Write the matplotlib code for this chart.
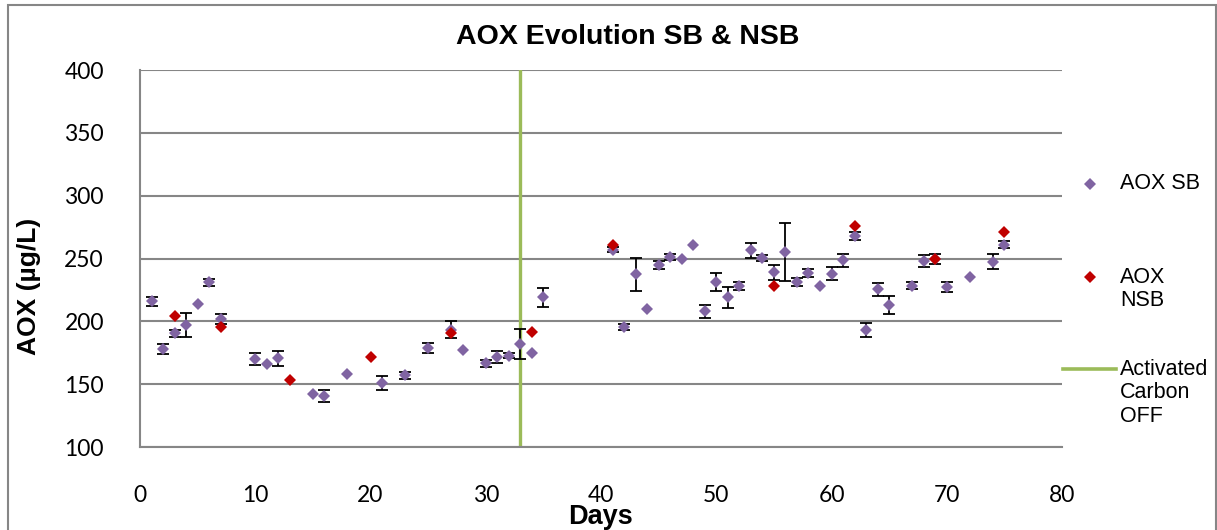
import numpy as np
import matplotlib.pyplot as plt
from matplotlib.lines import Line2D
from matplotlib.patches import Rectangle

# AOX in the SB line (with std. dev.)
days_sb = [1, 2, 3, 4, 5, 6, 7, 10, 11, 12, 15, 16, 18, 21, 23, 25, 27, 28,
           30, 31, 32, 33, 34, 35, 41, 42, 43, 44, 45, 46, 47, 48, 49, 50, 51,
           52, 53, 54, 55, 56, 57, 58, 59, 60, 61, 62, 63, 64, 65, 67, 68, 69,
           70, 72, 74, 75]
aox_sb = [216, 178, 190.5, 197, 213.5, 231, 202, 170, 166, 170.5, 142, 140.5,
          158, 151, 157, 179, 193.5, 177, 166.5, 171.5, 172.5, 182, 175, 219,
          257, 195.5, 237.5, 209.5, 245, 251, 250, 261, 208, 231.5, 219, 228,
          256.5, 250.5, 239, 255, 231.5, 238.5, 228.5, 238, 248.5, 268, 193,
          225.5, 213, 228.5, 248, 249.5, 227.5, 235, 247.5, 261]
err_sb = [3.5, 4, 3, 9.5, 0, 3, 4, 5, 0, 6, 0, 5, 0, 5.5, 3, 4, 7, 0,
          3, 4.5, 2, 12, 0, 7.5, 2, 2.5, 13, 0, 3, 2.5, 0, 0, 5, 7, 8.5,
          3, 6, 2.5, 6, 23, 3, 3, 0, 5, 5, 3, 5.5, 5, 7, 2.5, 5, 4,
          4, 0, 6, 3]

# AOX in the NSB line
days_nsb = [3, 7, 13, 20, 27, 34, 41, 55, 62, 69, 75]
aox_nsb = [204, 195.5, 153.5, 171.5, 191, 191.5, 260.5, 228.5, 275.5, 249.5, 271]

carbon_off_day = 33

purple = "#8064A2"
red = "#C00000"
green = "#9BBB59"
grid_gray = "#868686"

fig = plt.figure(figsize=(12.17, 5.30), dpi=100)
ax = fig.add_axes([140 / 1217, 1 - 447 / 530, (1062 - 140) / 1217, (447 - 70) / 530])

days_sb = np.array(days_sb)
aox_sb = np.array(aox_sb)
err_sb = np.array(err_sb)
has_err = err_sb > 0

ax.errorbar(days_sb[has_err], aox_sb[has_err], yerr=err_sb[has_err], fmt="none",
            ecolor="black", elinewidth=1.3, capsize=4.5, capthick=1.3, zorder=2)
ax.plot(days_sb, aox_sb, "D", color=purple, ms=6.2, mew=0, zorder=3)
ax.plot(days_nsb, aox_nsb, "D", color=red, ms=6.2, mew=0, zorder=4)
ax.axvline(carbon_off_day, color=green, lw=2.4, zorder=1)

ax.set_xlim(0, 80)
ax.set_ylim(100, 400)
ax.set_xticks(range(0, 81, 10))
ax.set_yticks(range(100, 401, 50))
ax.yaxis.grid(True, color=grid_gray, lw=1.5)
ax.set_axisbelow(True)
for s in ["top", "right"]:
    ax.spines[s].set_visible(False)
for s in ["left", "bottom"]:
    ax.spines[s].set_color(grid_gray)
    ax.spines[s].set_linewidth(1.5)
ax.tick_params(length=0, labelsize=16.5)
for lab in ax.get_xticklabels() + ax.get_yticklabels():
    lab.set_family("Lato")
ax.tick_params(axis="x", pad=27)
ax.tick_params(axis="y", pad=26)

ax.set_xlabel("Days", family="Liberation Sans", fontweight="bold", fontsize=19.5)
ax.xaxis.set_label_coords(0.5, (447 - 517) / 377)
ax.xaxis.label.set_va("center")
ax.set_ylabel("AOX (µg/L)", family="Liberation Sans", fontweight="bold", fontsize=19)
ax.yaxis.set_label_coords((29 - 140) / 922, (447 - 286.5) / 377)
ax.yaxis.label.set_va("center")
ax.yaxis.label.set_ha("center")
fig.text(628 / 1217, 1 - 37 / 530, "AOX Evolution SB & NSB", family="Liberation Sans",
         fontweight="bold", fontsize=20.5, ha="center", va="center")

# legend drawn by hand to keep the evenly spaced entries
leg_font = dict(family="Liberation Sans", fontsize=15.5, va="center", ha="left", linespacing=1.14)
fig.add_artist(Line2D([1090 / 1217], [1 - 184 / 530], marker="D", color=purple, ms=6, mew=0))
fig.text(1120 / 1217, 1 - 184 / 530, "AOX SB", **leg_font)
fig.add_artist(Line2D([1090 / 1217], [1 - 277 / 530], marker="D", color=red, ms=6, mew=0))
fig.text(1120 / 1217, 1 - 289 / 530, "AOX\nNSB", **leg_font)
fig.add_artist(Line2D([1063 / 1217, 1116 / 1217], [1 - 369 / 530] * 2, color=green, lw=2.6))
fig.text(1120 / 1217, 1 - 393 / 530, "Activated\nCarbon\nOFF", **leg_font)

# chart border
fig.add_artist(Rectangle((8 / 1217, -0.01), 1207.5 / 1217, 1 - 5 / 530 + 0.01,
                         transform=fig.transFigure, fill=False, edgecolor=grid_gray, lw=1.5))

fig.savefig("out.png", dpi=100)
